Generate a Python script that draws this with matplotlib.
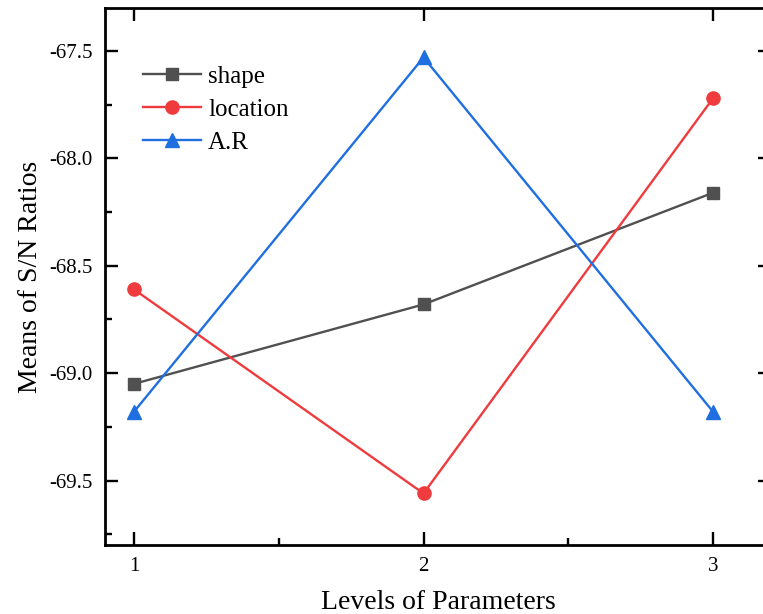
import matplotlib.pyplot as plt
from matplotlib.ticker import MultipleLocator

plt.rcParams['font.family'] = ['Liberation Serif', 'DejaVu Serif']

levels = [1, 2, 3]
shape = [-69.05, -68.68, -68.16]
location = [-68.61, -69.56, -67.72]
aspect_ratio = [-69.18, -67.53, -69.18]

fig = plt.figure(figsize=(7.63, 6.14), dpi=100)
ax = fig.add_axes([0.1376, 0.1124, 0.8729, 0.8746])

ax.plot(levels, shape, color='#505050', lw=1.7, marker='s', ms=8.5, label='shape')
ax.plot(levels, location, color='#EF3B3D', lw=1.7, marker='o', ms=9.5, label='location')
ax.plot(levels, aspect_ratio, color='#1F6FE0', lw=1.7, marker='^', ms=10.5, label='A.R')

ax.set_xlim(0.9, 3.2)
ax.set_ylim(-69.8, -67.3)
ax.set_xticks(levels)
ax.xaxis.set_minor_locator(MultipleLocator(0.5))
ax.yaxis.set_major_locator(MultipleLocator(0.5))
ax.yaxis.set_minor_locator(MultipleLocator(0.25))
ax.yaxis.set_major_formatter(lambda v, p: f'{v:.1f}')

ax.tick_params(which='major', direction='in', length=9.5, width=1.7, labelsize=15, pad=9, top=True, right=True)
ax.tick_params(which='minor', direction='in', length=5, width=1.7, top=False, right=False)
for s in ax.spines.values():
    s.set_linewidth(2)

ax.set_xlabel('Levels of Parameters', fontsize=20, labelpad=10)
ax.set_ylabel('Means of S/N Ratios', fontsize=20, labelpad=4)

ax.legend(loc='upper left', bbox_to_anchor=(0.024, 0.935), frameon=False, fontsize=18,
          handlelength=2.3, handletextpad=0.28, labelspacing=0.42)

plt.savefig('out.png', dpi=100)
